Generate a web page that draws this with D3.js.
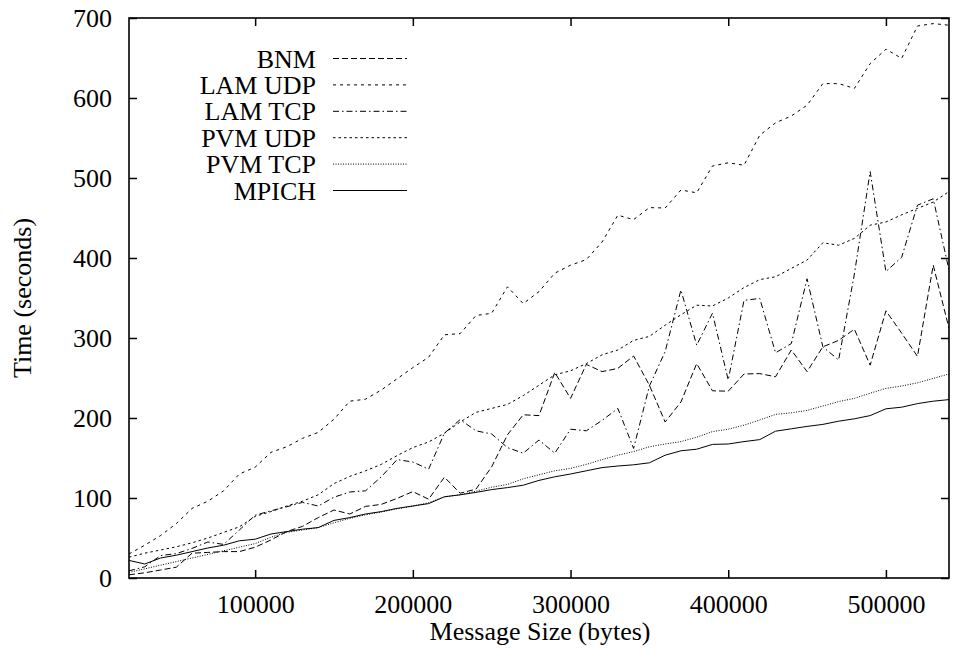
<!DOCTYPE html>
<html>
<head>
<meta charset="utf-8">
<script src="https://cdn.jsdelivr.net/npm/d3@7"></script>
<style>
  html, body { margin: 0; padding: 0; background: #fff; }
  svg text { font-family: "Liberation Serif", "Times New Roman", Times, Tinos, "DejaVu Serif", "Noto Serif", serif !important; fill: #000; }
</style>
</head>
<body>
<svg id="chart" width="956" height="652"></svg>
<script>
const messageSizes = [20000, 30000, 40000, 50000, 60000, 70000, 80000, 90000, 100000, 110000,
  120000, 130000, 140000, 150000, 160000, 170000, 180000, 190000, 200000, 210000,
  220000, 230000, 240000, 250000, 260000, 270000, 280000, 290000, 300000, 310000,
  320000, 330000, 340000, 350000, 360000, 370000, 380000, 390000, 400000, 410000,
  420000, 430000, 440000, 450000, 460000, 470000, 480000, 490000, 500000, 510000,
  520000, 530000, 540000];

const bnm = [4, 6.5, 10, 13.5, 31, 32, 33, 33, 38.5, 47.5, 58, 64.5, 75.5, 85, 80, 89.5, 92, 99.5, 108, 98.5,
  126, 106, 111, 139, 179, 204, 203, 257, 224.5, 267, 258, 262, 277.5, 241, 195, 220, 268, 234, 233.5, 255,
  255.5, 251.5, 285, 258, 289, 297, 311, 266, 334, 306, 277, 391, 312];
const lamUdp = [30, 41, 53, 68, 87, 96, 109, 130, 138.5, 157, 164, 174.5, 182, 198.5, 221, 223.5, 235, 249, 263, 276,
  304, 305.5, 328, 331, 364, 343, 358, 381, 391, 398, 420, 453.5, 448, 463, 462.5, 485, 481.5, 515, 519, 516,
  553.5, 569, 577.5, 591, 618, 618, 612, 643, 661, 649.5, 690, 693, 691];
const lamTcp = [9, 14, 28, 30.5, 37, 45, 42, 60, 78.5, 84, 89, 94.5, 90, 101, 107.5, 109, 126.5, 148, 145, 136,
  181, 198, 184, 180, 163, 156, 172.5, 156, 186, 184, 197, 212, 162, 240, 283, 360, 291, 331, 247.5, 347,
  349.5, 281.5, 293, 374, 289, 272.5, 380, 508, 383, 401, 466, 474, 385];
const pvmUdp = [26, 31, 35, 39, 44, 50, 57, 64, 77, 83, 90, 96, 104, 118, 127, 134, 142, 153, 163, 170,
  181, 195, 207, 212, 217, 228, 241, 254, 259, 268, 279, 285, 297, 302, 316, 329, 341, 340, 350, 363,
  373, 376.5, 387, 397.5, 419, 416, 424.5, 441, 445, 454, 462, 470, 483];
const pvmTcp = [7, 11.5, 16, 20.5, 25, 29.5, 34, 38.5, 43, 51, 57, 60, 63, 69, 74.5, 79, 82.5, 86.5, 90, 94,
  101.5, 104, 108.5, 113.5, 117, 124, 129, 134, 137, 142, 148, 153.5, 158, 164, 167.5, 170.5, 176, 183, 186, 191,
  197.5, 204.5, 206.5, 209.5, 215, 220.5, 224.5, 231, 237, 240, 244, 249.5, 255];
const mpich = [22, 17.5, 25, 28.5, 33, 37.5, 41, 46.5, 48.5, 55, 58, 61, 63, 72, 75.5, 80, 83, 87, 90, 93,
  101.5, 104, 107, 110.5, 113, 116, 122, 126.5, 130, 134, 138, 140, 141.5, 144, 153.5, 159, 161, 167, 167.5, 170.5,
  173, 183.5, 186.5, 189.5, 192, 196, 199, 203, 211.5, 213.5, 218, 221, 223];

const seriesNames = ["BNM", "LAM UDP", "LAM TCP", "PVM UDP", "PVM TCP", "MPICH"];
const seriesValues = [bnm, lamUdp, lamTcp, pvmUdp, pvmTcp, mpich];
const xTickValues = [100000, 200000, 300000, 400000, 500000];
const yTickValues = [0, 100, 200, 300, 400, 500, 600, 700];

const dashes = ["6,3", "3,4", "6,3,1.5,3", "2.5,3", "1,1.5", null];

const svg = d3.select("#chart");
const L = 129, R = 949, T = 18, B = 578;
const x = d3.scaleLinear().domain([20000, 540000]).range([L, R]);
const y = d3.scaleLinear().domain([0, 700]).range([B, T]);
const fs = 26;
const FONT = '"Liberation Serif", "Times New Roman", Times, Tinos, "DejaVu Serif", "Noto Serif", serif';

const gB = svg.append("g").attr("transform", `translate(0,${B})`)
  .call(d3.axisBottom(x).tickValues(xTickValues).tickSizeInner(-8).tickSizeOuter(0).tickPadding(17).tickFormat(d3.format("d")));
const gT = svg.append("g").attr("transform", `translate(0,${T})`)
  .call(d3.axisTop(x).tickValues(xTickValues).tickSizeInner(-8).tickSizeOuter(0).tickFormat(""));
const gL = svg.append("g").attr("transform", `translate(${L},0)`)
  .call(d3.axisLeft(y).tickValues(yTickValues).tickSizeInner(-8).tickSizeOuter(0).tickPadding(17).tickFormat(d3.format("d")));
const gR = svg.append("g").attr("transform", `translate(${R},0)`)
  .call(d3.axisRight(y).tickValues(yTickValues).tickSizeInner(-8).tickSizeOuter(0).tickFormat(""));
[gB, gT, gL, gR].forEach(g => {
  g.attr("font-family", FONT);
  g.select(".domain").remove();
  g.selectAll(".tick line").attr("stroke", "#000").attr("stroke-width", 1.5);
  g.selectAll(".tick text").attr("font-size", fs).style("font-family", FONT);
});
gB.selectAll(".tick text").attr("dy", "0.71em");

svg.append("rect").attr("x", L).attr("y", T).attr("width", R - L).attr("height", B - T)
  .attr("fill", "none").attr("stroke", "#000").attr("stroke-width", 1.6);

const line = d3.line().x((d, i) => x(messageSizes[i])).y(d => y(d));
svg.append("clipPath").attr("id", "clip").append("rect")
  .attr("x", L).attr("y", T).attr("width", R - L).attr("height", B - T);
const gLines = svg.append("g").attr("clip-path", "url(#clip)");
seriesValues.forEach((vals, k) => {
  gLines.append("path").datum(vals).attr("d", line)
    .attr("fill", "none").attr("stroke", "#000").attr("stroke-width", 1)
    .attr("stroke-dasharray", dashes[k]);
});

const legend = svg.append("g");
seriesNames.forEach((name, k) => {
  const cy = 58.5 + k * 26.4;
  legend.append("text").attr("x", 316).attr("y", cy + 9).attr("text-anchor", "end")
    .attr("font-size", fs).style("font-family", FONT).text(name);
  legend.append("line").attr("x1", 333).attr("x2", 407).attr("y1", cy).attr("y2", cy)
    .attr("stroke", "#000").attr("stroke-width", 1).attr("stroke-dasharray", dashes[k]);
});

svg.append("text").attr("x", (L + R) / 2 + 1).attr("y", 640).attr("text-anchor", "middle")
  .attr("font-size", fs).style("font-family", FONT).text("Message Size (bytes)");
svg.append("text").attr("transform", "translate(31,298) rotate(-90)").attr("text-anchor", "middle")
  .attr("font-size", fs).style("font-family", FONT).text("Time (seconds)");
</script>
</body>
</html>
